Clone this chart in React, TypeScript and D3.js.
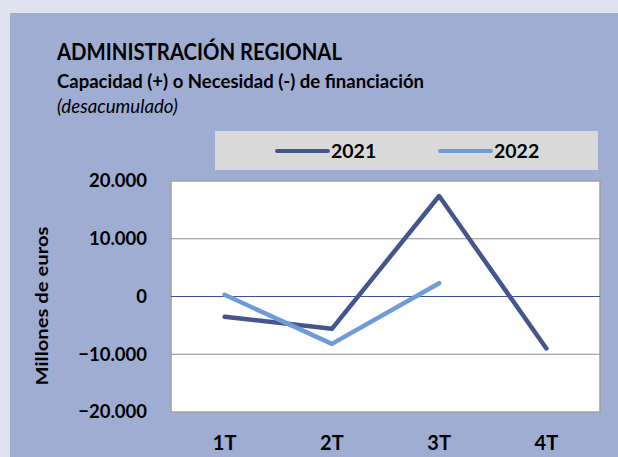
import React, { useEffect, useRef } from 'react';
import * as d3 from 'd3';

const quarters = ['1T', '2T', '3T', '4T'];
const values2021 = [-3500, -5600, 17400, -9000];
const values2022 = [300, -8200, 2300];
const yTicks = [-20000, -10000, 0, 10000, 20000];
const seriesNames = ['2021', '2022'];
const seriesColors = ['#43568e', '#6f9bd8'];

const width = 618;
const height = 457;
const font = 'Lato, "Open Sans", sans-serif';

const App = () => {
  const ref = useRef<SVGSVGElement>(null);

  useEffect(() => {
    const svg = d3.select(ref.current);
    svg.selectAll('*').remove();

    // page + panel backgrounds
    svg.append('rect').attr('width', width).attr('height', height).attr('fill', '#dfe3ef');
    svg.append('rect').attr('x', 10).attr('y', 13).attr('width', width - 10).attr('height', height - 13).attr('fill', '#9fadd3');

    // titles
    svg.append('text').attr('x', 57).attr('y', 60).text('ADMINISTRACIÓN REGIONAL')
      .attr('textLength', 285).attr('lengthAdjust', 'spacingAndGlyphs')
      .style('font-family', font).style('font-weight', 'bold').style('font-size', '23px').attr('fill', '#000');
    svg.append('text').attr('x', 57).attr('y', 88).text('Capacidad (+) o Necesidad (-) de financiación')
      .attr('textLength', 367).attr('lengthAdjust', 'spacingAndGlyphs')
      .style('font-family', font).style('font-weight', 'bold').style('font-size', '18.5px').attr('fill', '#000');
    svg.append('text').attr('x', 57).attr('y', 113).text('(desacumulado)')
      .style('font-family', font).style('font-style', 'italic').style('font-size', '18.7px').attr('fill', '#000');

    // legend
    svg.append('rect').attr('x', 215).attr('y', 131).attr('width', 383).attr('height', 39).attr('fill', '#d9d9d9');
    const legendX = [277, 440];
    seriesNames.forEach((name, i) => {
      svg.append('line')
        .attr('x1', legendX[i]).attr('x2', legendX[i] + 51)
        .attr('y1', 151).attr('y2', 151)
        .attr('stroke', seriesColors[i]).attr('stroke-width', 4).attr('stroke-linecap', 'round');
      svg.append('text').attr('x', legendX[i] + 54).attr('y', 158).text(name)
        .style('font-family', font).style('font-weight', 'bold').style('font-size', '19.5px');
    });

    // plot area
    const left = 171, right = 600, top = 181, bottom = 412;
    const x = d3.scaleBand().domain(quarters).range([left, right]);
    const y = d3.scaleLinear().domain([-20000, 20000]).range([bottom, top]);

    svg.append('rect').attr('x', left).attr('y', top).attr('width', right - left).attr('height', bottom - top)
      .attr('fill', '#fff').attr('stroke', '#a0a0a0').attr('stroke-width', 1.5);

    svg.append('g').selectAll('line')
      .data(yTicks.filter(t => t !== 0 && t !== 20000 && t !== -20000))
      .enter().append('line')
      .attr('x1', left).attr('x2', right)
      .attr('y1', d => y(d)).attr('y2', d => y(d))
      .attr('stroke', '#8c8c8c').attr('stroke-width', 1.2);

    svg.append('line').attr('x1', left).attr('x2', right).attr('y1', y(0)).attr('y2', y(0))
      .attr('stroke', '#3c4f9a').attr('stroke-width', 1.2);

    const fmt = (v: number) => d3.format(',')(v).replace(/,/g, '.');
    const yAxis = svg.append('g').attr('transform', `translate(${left - 21},0)`)
      .call(d3.axisLeft(y).tickValues(yTicks).tickSize(0).tickFormat(d => fmt(d as number)));
    yAxis.select('.domain').remove();
    yAxis.selectAll('text').style('font-family', font).style('font-weight', 'bold').style('font-size', '18.5px').attr('fill', '#000');

    const xAxis = svg.append('g').attr('transform', `translate(0,${bottom + 21})`)
      .call(d3.axisBottom(x).tickSize(0));
    xAxis.select('.domain').remove();
    xAxis.selectAll('text').style('font-family', font).style('font-weight', 'bold').style('font-size', '20px').attr('fill', '#000');

    svg.append('text').attr('transform', `translate(48,306) rotate(-90)`).attr('text-anchor', 'middle')
      .text('Millones de euros')
      .attr('textLength', 159).attr('lengthAdjust', 'spacingAndGlyphs')
      .style('font-family', font).style('font-weight', 'bold').style('font-size', '17.5px');

    const line = d3.line<number>()
      .x((d, i) => (x(quarters[i]) as number) + x.bandwidth() / 2)
      .y(d => y(d));

    [values2021, values2022].forEach((vals, i) => {
      svg.append('path').attr('d', line(vals) as string)
        .attr('fill', 'none').attr('stroke', seriesColors[i]).attr('stroke-width', 4.5)
        .attr('stroke-linecap', 'round').attr('stroke-linejoin', 'round');
    });
  }, []);

  return (
    <svg ref={ref} width={width} height={height} style={{ position: 'absolute', left: 0, top: 0 }} />
  );
};

export default App;
